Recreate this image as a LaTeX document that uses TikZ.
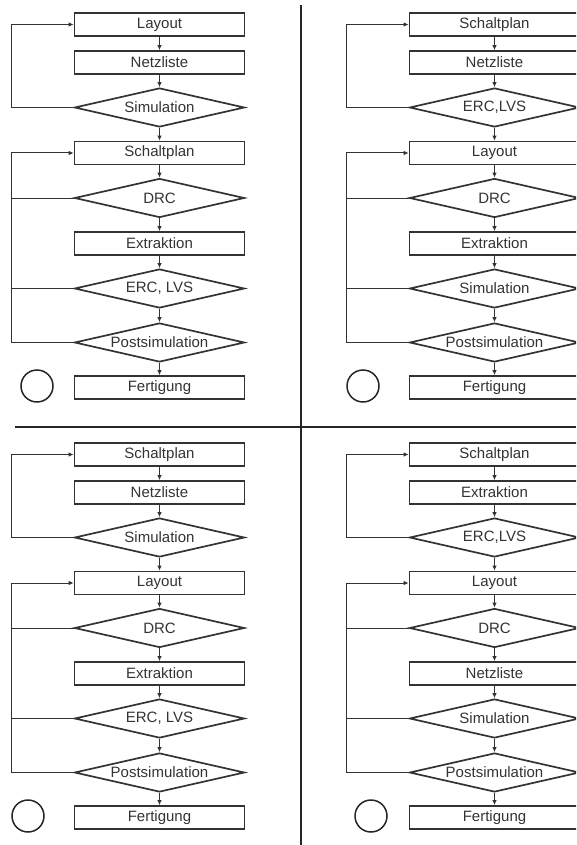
\documentclass[tikz,border=0pt]{standalone}
\usepackage{fontspec}
\setmainfont{Liberation Sans}
\usetikzlibrary{shapes.geometric,arrows.meta}

\begin{document}
\begin{tikzpicture}[x=1pt,y=-1pt,
	font=\fontsize{15}{17}\selectfont, text=black!80,
	stepbox/.style={rectangle, draw=black!80, line width=1.7pt, minimum width=170pt, minimum height=23pt, inner sep=0pt},
	testbox/.style={diamond, draw=black!80, line width=1.7pt, aspect=4.36, minimum width=170pt, minimum height=39pt, inner sep=0pt},
	endring/.style={circle, draw=black!85, line width=1.5pt, minimum size=32pt, inner sep=0pt},
	flow/.style={draw=black!80, line width=1pt, -{Latex[length=5pt,width=4.5pt]}},
	back/.style={draw=black!80, line width=1pt},
	divider/.style={draw=black!85, line width=2pt}]

	\useasboundingbox (0,0) rectangle (576,845);
	\clip (0,0) rectangle (576,845);

	% top left
	\begin{scope}
	\node (A1) [stepbox] at (159.5,24.5) {Layout};
	\node (A2) [stepbox] at (159.5,62.5) {Netzliste};
	\node (A3) [testbox] at (159.5,107.5) {Simulation};
	\node (A4) [stepbox] at (159.5,153) {Schaltplan};
	\node (A5) [testbox] at (159.5,198) {DRC};
	\node (A6) [stepbox] at (159.5,243.5) {Extraktion};
	\node (A7) [testbox] at (159.5,288.5) {ERC, LVS};
	\node (A8) [testbox] at (159.5,342.5) {Postsimulation};
	\node (A9) [stepbox] at (159.5,387.5) {Fertigung};
	\node (A0) [endring] at (37,386) {};

	\draw [flow] (A1) to (A2);
	\draw [flow] (A2) to (A3);
	\draw [flow] (A3) to (A4);
	\draw [flow] (A4) to (A5);
	\draw [flow] (A5) to (A6);
	\draw [flow] (A6) to (A7);
	\draw [flow] (A7) to (A8);
	\draw [flow] (A8) to (A9);
	\draw [flow] (A3.west) -- ++(-62,0) |- (A1.west);
	\draw [flow] (A8.west) -- ++(-62,0) |- (A4.west);
	\draw [back] (A5.west) -- ++(-62,0);
	\draw [back] (A7.west) -- ++(-62,0);
	\end{scope}

	% top right
	\begin{scope}[shift={(335,0)}]
	\node (B1) [stepbox] at (159.5,24.5) {Schaltplan};
	\node (B2) [stepbox] at (159.5,62.5) {Netzliste};
	\node (B3) [testbox] at (159.5,107.5) {ERC,LVS};
	\node (B4) [stepbox] at (159.5,153) {Layout};
	\node (B5) [testbox] at (159.5,198) {DRC};
	\node (B6) [stepbox] at (159.5,243.5) {Extraktion};
	\node (B7) [testbox] at (159.5,288.5) {Simulation};
	\node (B8) [testbox] at (159.5,342.5) {Postsimulation};
	\node (B9) [stepbox] at (159.5,387.5) {Fertigung};
	\node (B0) [endring] at (28,386) {};

	\draw [flow] (B1) to (B2);
	\draw [flow] (B2) to (B3);
	\draw [flow] (B3) to (B4);
	\draw [flow] (B4) to (B5);
	\draw [flow] (B5) to (B6);
	\draw [flow] (B6) to (B7);
	\draw [flow] (B7) to (B8);
	\draw [flow] (B8) to (B9);
	\draw [flow] (B3.west) -- ++(-62,0) |- (B1.west);
	\draw [flow] (B8.west) -- ++(-62,0) |- (B4.west);
	\draw [back] (B5.west) -- ++(-62,0);
	\draw [back] (B7.west) -- ++(-62,0);
	\end{scope}

	% bottom left
	\begin{scope}[shift={(0,430)}]
	\node (C1) [stepbox] at (159.5,24.5) {Schaltplan};
	\node (C2) [stepbox] at (159.5,62.5) {Netzliste};
	\node (C3) [testbox] at (159.5,107.5) {Simulation};
	\node (C4) [stepbox] at (159.5,153) {Layout};
	\node (C5) [testbox] at (159.5,198) {DRC};
	\node (C6) [stepbox] at (159.5,243.5) {Extraktion};
	\node (C7) [testbox] at (159.5,288.5) {ERC, LVS};
	\node (C8) [testbox] at (159.5,342.5) {Postsimulation};
	\node (C9) [stepbox] at (159.5,387.5) {Fertigung};
	\node (C0) [endring] at (28,386) {};

	\draw [flow] (C1) to (C2);
	\draw [flow] (C2) to (C3);
	\draw [flow] (C3) to (C4);
	\draw [flow] (C4) to (C5);
	\draw [flow] (C5) to (C6);
	\draw [flow] (C6) to (C7);
	\draw [flow] (C7) to (C8);
	\draw [flow] (C8) to (C9);
	\draw [flow] (C3.west) -- ++(-62,0) |- (C1.west);
	\draw [flow] (C8.west) -- ++(-62,0) |- (C4.west);
	\draw [back] (C5.west) -- ++(-62,0);
	\draw [back] (C7.west) -- ++(-62,0);
	\end{scope}

	% bottom right
	\begin{scope}[shift={(335,430)}]
	\node (D1) [stepbox] at (159.5,24.5) {Schaltplan};
	\node (D2) [stepbox] at (159.5,62.5) {Extraktion};
	\node (D3) [testbox] at (159.5,107.5) {ERC,LVS};
	\node (D4) [stepbox] at (159.5,153) {Layout};
	\node (D5) [testbox] at (159.5,198) {DRC};
	\node (D6) [stepbox] at (159.5,243.5) {Netzliste};
	\node (D7) [testbox] at (159.5,288.5) {Simulation};
	\node (D8) [testbox] at (159.5,342.5) {Postsimulation};
	\node (D9) [stepbox] at (159.5,387.5) {Fertigung};
	\node (D0) [endring] at (36,386) {};

	\draw [flow] (D1) to (D2);
	\draw [flow] (D2) to (D3);
	\draw [flow] (D3) to (D4);
	\draw [flow] (D4) to (D5);
	\draw [flow] (D5) to (D6);
	\draw [flow] (D6) to (D7);
	\draw [flow] (D7) to (D8);
	\draw [flow] (D8) to (D9);
	\draw [flow] (D3.west) -- ++(-62,0) |- (D1.west);
	\draw [flow] (D8.west) -- ++(-62,0) |- (D4.west);
	\draw [back] (D5.west) -- ++(-62,0);
	\draw [back] (D7.west) -- ++(-62,0);
	\end{scope}

	% dividers
	\draw [divider] (301,5) -- (301,845);
	\draw [divider] (15,427) -- (576,427);

\end{tikzpicture}
\end{document}
